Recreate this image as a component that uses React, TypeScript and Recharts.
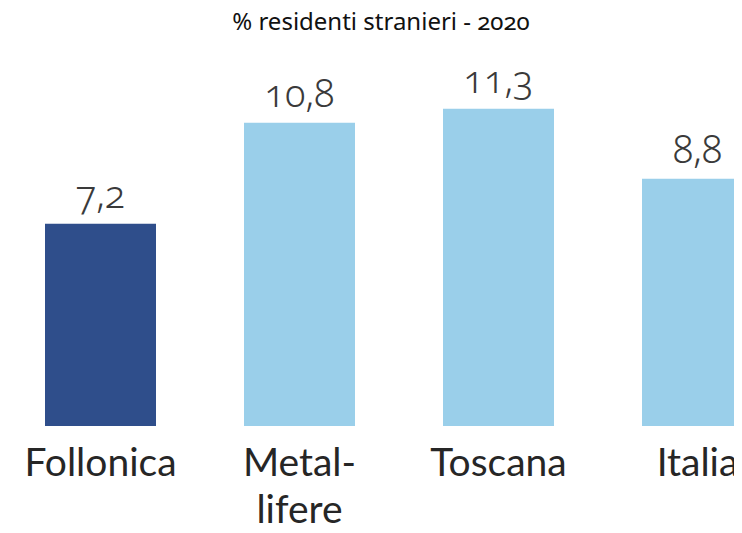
import React from 'react';
import { BarChart, Bar, XAxis, YAxis, Cell, LabelList } from 'recharts';

const categories = ['Follonica', 'Metal-lifere', 'Toscana', 'Italia'];
const values = [7.2, 10.8, 11.3, 8.8];
const tickLines: string[][] = [['Follonica'], ['Metal-', 'lifere'], ['Toscana'], ['Italia']];
const barColors = ['#2f4e8b', '#9acfea', '#9acfea', '#9acfea'];

const data = categories.map((name, i) => ({ name, value: values[i] }));

const NUM_FONT = '"Noto Sans", "Open Sans", sans-serif';
const LABEL_FONT = 'Lato, "Open Sans", sans-serif';

const CategoryTick = (props: any) => {
  const { x, y, payload } = props;
  const idx = categories.indexOf(payload.value);
  const lines = idx >= 0 ? tickLines[idx] : [String(payload.value)];
  return (
    <text
      x={x}
      y={y}
      textAnchor="middle"
      fontSize={39}
      fontFamily={LABEL_FONT}
      fill="#262626"
    >
      {lines.map((l, i) => (
        <tspan key={i} x={x} dy={i === 0 ? 42 : 47}>
          {l}
        </tspan>
      ))}
    </text>
  );
};

const fmt = (v: any) => Number(v).toFixed(1).replace('.', ',');

export default function App() {
  return (
    <div
      style={{
        position: 'relative',
        width: 742,
        height: 533,
        margin: -8,
        overflow: 'hidden',
        background: '#fff',
      }}
    >
      <div
        style={{
          position: 'absolute',
          left: 0,
          top: 9,
          width: 762,
          textAlign: 'center',
          fontFamily: NUM_FONT,
          fontSize: 24,
          lineHeight: '24px',
          color: '#111',
          fontVariantNumeric: 'oldstyle-nums',
        }}
      >
        % residenti stranieri - 2020
      </div>
      <BarChart
        width={800}
        height={533}
        data={data}
        margin={{ top: 89, right: 3, bottom: 0, left: 1 }}
      >
        <XAxis
          dataKey="name"
          axisLine={false}
          tickLine={false}
          height={107}
          interval={0}
          tick={<CategoryTick />}
        />
        <YAxis hide domain={[0, 12]} />
        <Bar dataKey="value" barSize={111} isAnimationActive={false}>
          {data.map((d, i) => (
            <Cell key={d.name} fill={barColors[i]} />
          ))}
          <LabelList
            dataKey="value"
            position="top"
            offset={16}
            formatter={fmt}
            fill="#3a3a3a"
            fontSize={38}
            fontWeight={300}
            fontFamily={NUM_FONT}
            style={{ fontVariantNumeric: 'oldstyle-nums' }}
          />
        </Bar>
      </BarChart>
    </div>
  );
}
